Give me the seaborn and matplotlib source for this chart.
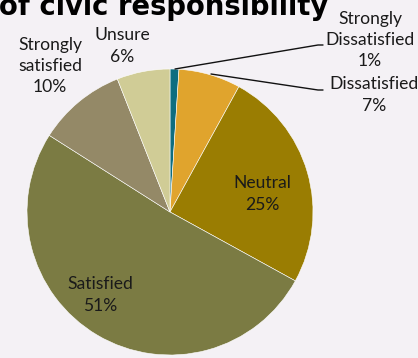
import matplotlib
matplotlib.use("Agg")
import matplotlib.pyplot as plt
import seaborn as sns

sns.set_theme(style="white")
plt.rcParams['font.family'] = ['Lato', 'DejaVu Sans']

categories = ["Strongly\nDissatisfied", "Dissatisfied", "Neutral", "Satisfied",
              "Strongly\nsatisfied", "Unsure"]
values = [1, 7, 25, 51, 10, 6]
colors = ["#0E6D80", "#E0A42D", "#9A7D02", "#7B7B43", "#948967", "#D0CC96"]
title = "of civic responsibility"

W, H = 418, 358
BG = "#F4F1F5"
fig = plt.figure(figsize=(W / 100, H / 100), dpi=100, facecolor=BG)
ax = fig.add_axes([0, 0, 1, 1])
ax.set_facecolor(BG)
ax.axis("off")

def Y(py):
    return H - py

cx, cy, r = 170, 212, 143
ax.pie(values, colors=colors, startangle=90, counterclock=False,
       center=(cx, Y(cy)), radius=r,
       wedgeprops=dict(edgecolor="white", linewidth=0.4))
ax.set_xlim(0, W)
ax.set_ylim(0, H)
ax.set_aspect("equal")

# label positions (pixel coords)
pos = [(370, 40), (374, 95), (262, 194), (100, 295), (50, 66), (122, 46)]
for cat, v, (px, py) in zip(categories, values, pos):
    ax.text(px, Y(py), f"{cat}\n{v}%", ha="center", va="center",
            multialignment="center", fontsize=12.6, color="#1a1a1a",
            linespacing=1.42)

# leader lines
ax.plot([175, 318, 323], [Y(69), Y(45), Y(45)], color="#111111", lw=1)
ax.plot([211, 318, 323], [Y(74), Y(90), Y(90)], color="#111111", lw=1)

ax.text(-1, Y(15), title, ha="left", va="baseline", fontsize=19.8,
        fontweight="bold", family=["DejaVu Sans"], color="black")

fig.savefig("out.png", dpi=100, facecolor=BG)
